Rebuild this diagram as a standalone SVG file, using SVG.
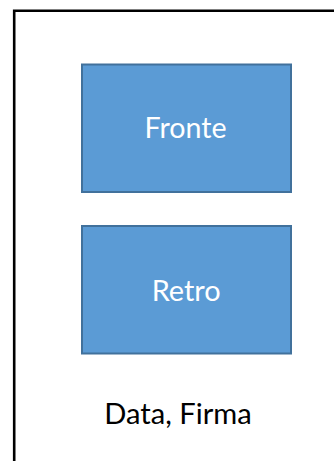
<svg xmlns="http://www.w3.org/2000/svg" width="334" height="461" viewBox="0 0 334 461">
<style>
.box{fill:#5B9BD5;stroke:#41719C;stroke-width:2}
.lbl{font-family:Lato,"Open Sans",sans-serif;font-size:28px;text-anchor:middle}
</style>
<rect width="334" height="461" fill="#fff"/>
<g id="frame">
<path d="M14.2,461 V10.7 H334" fill="none" stroke="#000" stroke-width="2.6"/>
</g>
<g id="fronte">
<rect class="box" x="82" y="64.5" width="209" height="127.5"/>
<text class="lbl" x="185.5" y="138.3" fill="#fff" textLength="82" lengthAdjust="spacingAndGlyphs">Fronte</text>
</g>
<g id="retro">
<rect class="box" x="82" y="226" width="209" height="127.5"/>
<text class="lbl" x="186.2" y="301" fill="#fff" textLength="69" lengthAdjust="spacingAndGlyphs">Retro</text>
</g>
<g id="data-firma">
<text class="lbl" x="178" y="424.3" fill="#000" textLength="147.5" lengthAdjust="spacingAndGlyphs">Data, Firma</text>
</g>
<g id="connectors"></g>
</svg>
